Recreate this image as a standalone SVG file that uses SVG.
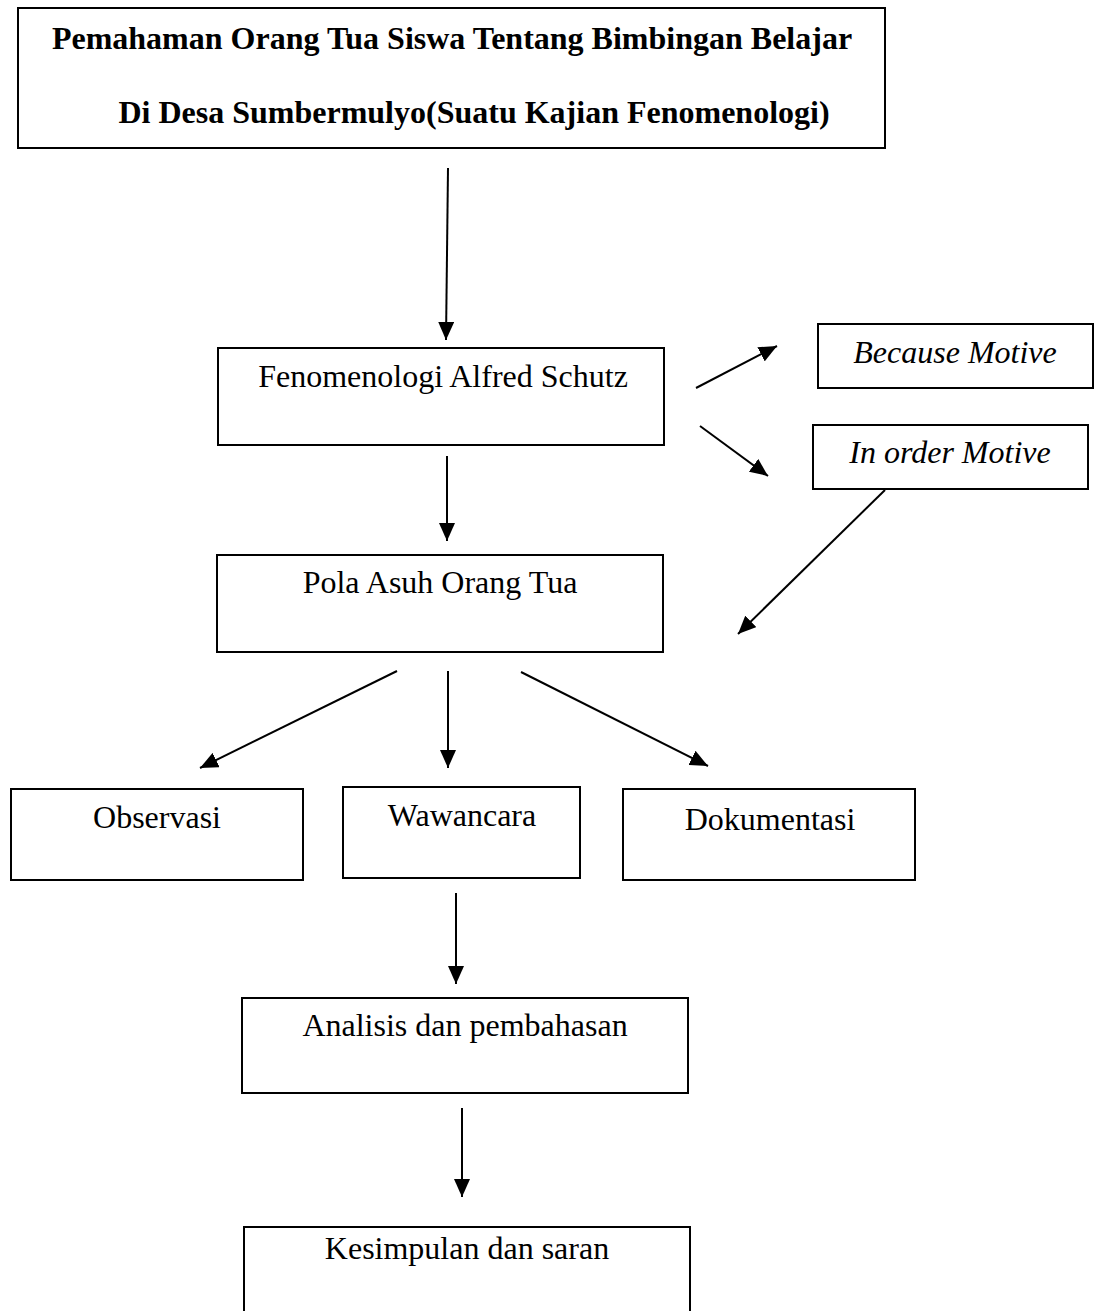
<svg xmlns="http://www.w3.org/2000/svg" width="1096" height="1311" viewBox="0 0 1096 1311">
<defs>
<style>
.box{fill:#fff;stroke:#000;stroke-width:2}
.t{font-family:"Liberation Serif","Times New Roman",serif;font-size:32px;fill:#000;text-anchor:middle}
.b{font-weight:bold}
.i{font-style:italic}
.c{stroke:#000;stroke-width:2;fill:none;marker-end:url(#ah)}
</style>
<marker id="ah" viewBox="0 0 18 16" markerWidth="18" markerHeight="16" refX="18" refY="8" orient="auto" markerUnits="userSpaceOnUse">
<path d="M0,0 L18,8 L0,16 Z" fill="#000"/>
</marker>
</defs>
<rect width="1096" height="1311" fill="#fff"/>
<g id="connectors">
<line class="c" x1="448" y1="168" x2="446" y2="340"/>
<line class="c" x1="696" y1="388" x2="777" y2="346"/>
<line class="c" x1="700" y1="426" x2="768" y2="476"/>
<line class="c" x1="447" y1="456" x2="447" y2="541"/>
<line class="c" x1="885" y1="490" x2="738" y2="634"/>
<line class="c" x1="397" y1="671" x2="200" y2="768"/>
<line class="c" x1="448" y1="671" x2="448" y2="768"/>
<line class="c" x1="521" y1="672" x2="708" y2="766"/>
<line class="c" x1="456" y1="893" x2="456" y2="984"/>
<line class="c" x1="462" y1="1108" x2="462" y2="1197"/>
</g>
<g id="title">
<rect class="box" x="18" y="8" width="867" height="140"/>
<text class="t b" x="452" y="49">Pemahaman Orang Tua Siswa Tentang Bimbingan Belajar</text>
<text class="t b" x="474" y="123">Di Desa Sumbermulyo(Suatu Kajian Fenomenologi)</text>
</g>
<g id="fenomenologi">
<rect class="box" x="218" y="348" width="446" height="97"/>
<text class="t" x="443" y="387">Fenomenologi Alfred Schutz</text>
</g>
<g id="because">
<rect class="box" x="818" y="324" width="275" height="64"/>
<text class="t i" x="955" y="363">Because Motive</text>
</g>
<g id="inorder">
<rect class="box" x="813" y="425" width="275" height="64"/>
<text class="t i" x="950" y="463">In order Motive</text>
</g>
<g id="pola">
<rect class="box" x="217" y="555" width="446" height="97"/>
<text class="t" x="440" y="593">Pola Asuh Orang Tua</text>
</g>
<g id="observasi">
<rect class="box" x="11" y="789" width="292" height="91"/>
<text class="t" x="157" y="828">Observasi</text>
</g>
<g id="wawancara">
<rect class="box" x="343" y="787" width="237" height="91"/>
<text class="t" x="462" y="826">Wawancara</text>
</g>
<g id="dokumentasi">
<rect class="box" x="623" y="789" width="292" height="91"/>
<text class="t" x="770" y="830">Dokumentasi</text>
</g>
<g id="analisis">
<rect class="box" x="242" y="998" width="446" height="95"/>
<text class="t" x="465" y="1036">Analisis dan pembahasan</text>
</g>
<g id="kesimpulan">
<rect class="box" x="244" y="1227" width="446" height="100"/>
<text class="t" x="467" y="1259">Kesimpulan dan saran</text>
</g>
</svg>
